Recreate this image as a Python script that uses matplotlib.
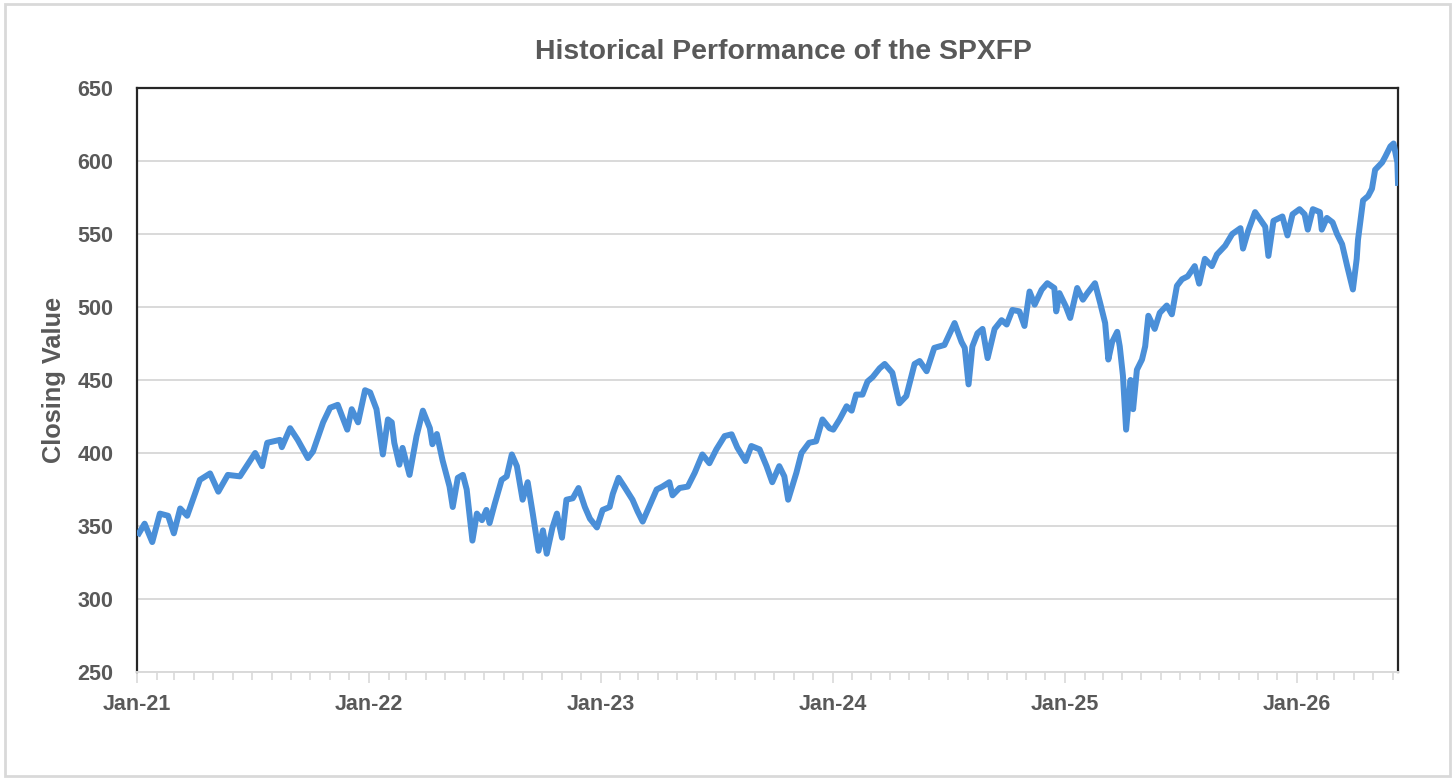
import matplotlib
matplotlib.use('Agg')
import matplotlib.pyplot as plt
import matplotlib.dates as mdates
import pandas as pd
from matplotlib.patches import Rectangle

plt.rcParams['font.family'] = ['Liberation Sans', 'DejaVu Sans']

# closing values
dates_2021 = ['2021-01-04', '2021-01-13', '2021-01-25', '2021-02-06', '2021-02-19', '2021-02-28',
              '2021-03-10', '2021-03-21', '2021-04-10', '2021-04-26', '2021-05-09', '2021-05-24',
              '2021-06-12', '2021-07-06', '2021-07-17', '2021-07-25', '2021-08-14', '2021-08-17',
              '2021-08-30', '2021-09-11', '2021-09-27', '2021-10-05', '2021-10-21', '2021-11-01',
              '2021-11-13', '2021-11-28', '2021-12-05', '2021-12-15', '2021-12-26']
values_2021 = [345, 351.6, 339, 358.5, 357, 345,
               362, 357, 381.6, 386, 373.5, 385,
               384, 400, 391, 407, 409, 404,
               417, 409, 396.5, 401, 421, 431,
               433, 416, 430, 421, 443]

dates_2022 = ['2022-01-03', '2022-01-13', '2022-01-23', '2022-01-31', '2022-02-06', '2022-02-10',
              '2022-02-18', '2022-02-23', '2022-03-06', '2022-03-17', '2022-03-27', '2022-04-07',
              '2022-04-11', '2022-04-18', '2022-04-27', '2022-05-08', '2022-05-13', '2022-05-21',
              '2022-05-29', '2022-06-04', '2022-06-13', '2022-06-20', '2022-06-28', '2022-07-05',
              '2022-07-10', '2022-07-18', '2022-07-29', '2022-08-06', '2022-08-14', '2022-08-22',
              '2022-08-31', '2022-09-08', '2022-09-16', '2022-09-25', '2022-10-02', '2022-10-08',
              '2022-10-17', '2022-10-24', '2022-11-01', '2022-11-08', '2022-11-18', '2022-11-27',
              '2022-12-07', '2022-12-15', '2022-12-26']
values_2022 = [441.5, 430, 399, 423, 421, 407,
               392, 403.5, 385, 411.5, 429, 417,
               406, 413, 395, 377, 363, 383,
               385, 375, 340, 358.5, 354, 361,
               352, 365, 381.6, 384, 399, 391,
               368, 380, 358.5, 333, 347, 331,
               349, 358.5, 342, 368, 369, 376,
               363, 355, 349]

dates_2023 = ['2023-01-04', '2023-01-15', '2023-01-20', '2023-01-29', '2023-02-07', '2023-02-20',
              '2023-02-28', '2023-03-08', '2023-03-19', '2023-03-30', '2023-04-08', '2023-04-19',
              '2023-04-24', '2023-05-05', '2023-05-18', '2023-05-29', '2023-06-10', '2023-06-21',
              '2023-07-02', '2023-07-15', '2023-07-26', '2023-08-04', '2023-08-17', '2023-08-26',
              '2023-09-08', '2023-09-19', '2023-09-28', '2023-10-09', '2023-10-17', '2023-10-23',
              '2023-11-05', '2023-11-13', '2023-11-25', '2023-12-06', '2023-12-16', '2023-12-27']
values_2023 = [361, 363, 372, 383, 377, 368,
               360, 353, 364, 375, 377, 380,
               371, 376, 377, 386.5, 399, 393,
               402.5, 411.6, 412.8, 403.7, 394.5, 404.8,
               402.5, 391, 380, 391, 384, 368,
               386.5, 400, 407, 408, 423, 417]

dates_2024 = ['2024-01-02', '2024-01-12', '2024-01-23', '2024-01-31', '2024-02-07', '2024-02-17',
              '2024-02-25', '2024-03-04', '2024-03-15', '2024-03-23', '2024-04-04', '2024-04-15',
              '2024-04-26', '2024-05-09', '2024-05-17', '2024-05-28', '2024-06-09', '2024-06-25',
              '2024-07-11', '2024-07-22', '2024-07-27', '2024-08-02', '2024-08-08', '2024-08-16',
              '2024-08-24', '2024-09-01', '2024-09-12', '2024-09-23', '2024-10-01', '2024-10-10',
              '2024-10-21', '2024-10-29', '2024-11-06', '2024-11-14', '2024-11-25', '2024-12-04',
              '2024-12-15', '2024-12-18', '2024-12-23']
values_2024 = [416, 423, 432, 429, 440, 440,
               449, 452, 458, 461, 455, 434,
               439, 461, 463, 456, 472, 474,
               489, 476, 472, 447, 473, 482,
               485, 465, 485, 491, 488, 498,
               497, 487, 510.6, 501.6, 511.8, 516.3,
               513, 497, 509.5]

dates_2025 = ['2025-01-02', '2025-01-09', '2025-01-20', '2025-01-29', '2025-02-05', '2025-02-17',
              '2025-02-25', '2025-03-05', '2025-03-10', '2025-03-16', '2025-03-24', '2025-03-28',
              '2025-04-02', '2025-04-07', '2025-04-14', '2025-04-18', '2025-04-24', '2025-05-02',
              '2025-05-07', '2025-05-12', '2025-05-22', '2025-05-30', '2025-06-10', '2025-06-18',
              '2025-06-26', '2025-07-04', '2025-07-13', '2025-07-24', '2025-07-31', '2025-08-09',
              '2025-08-20', '2025-08-28', '2025-09-10', '2025-09-21', '2025-10-04', '2025-10-08',
              '2025-10-16', '2025-10-27', '2025-11-04', '2025-11-12', '2025-11-17', '2025-11-25',
              '2025-12-09', '2025-12-17', '2025-12-25']
values_2025 = [500.5, 492.5, 513, 505, 509.5, 516.3,
               503, 489, 464, 476, 483, 473,
               453, 416, 450, 430, 457, 464,
               473, 494, 485, 496, 501, 495,
               514.5, 519, 521, 528, 516, 533,
               528, 536, 542, 550, 554, 540,
               552, 565, 560, 555, 535, 559,
               562, 549, 563.5]

dates_2026 = ['2026-01-05', '2026-01-13', '2026-01-18', '2026-01-26', '2026-02-06', '2026-02-09',
              '2026-02-17', '2026-02-26', '2026-03-05', '2026-03-13', '2026-03-21', '2026-03-25',
              '2026-03-30', '2026-04-05', '2026-04-07', '2026-04-15', '2026-04-23', '2026-04-29',
              '2026-05-04', '2026-05-15', '2026-05-20', '2026-05-28', '2026-06-02', '2026-06-08',
              '2026-06-09']
values_2026 = [567, 563.5, 553, 567, 565, 553,
               561, 558, 550, 543, 528, 521,
               512, 533, 546, 573, 576, 581,
               594, 599, 603, 610, 612, 599,
               585]

dates = pd.to_datetime(dates_2021 + dates_2022 + dates_2023 + dates_2024 + dates_2025 + dates_2026)
values = values_2021 + values_2022 + values_2023 + values_2024 + values_2025 + values_2026

text_grey = '#595959'
grid_grey = '#d9d9d9'

fig = plt.figure(figsize=(14.55, 7.8), dpi=100)
ax = fig.add_axes([137 / 1455, 1 - 672 / 780, (1398 - 137) / 1455, (672 - 88) / 780])

ax.plot(dates, values, color='#4a8fd8', linewidth=4.3, solid_joinstyle='round', zorder=3)

ax.set_ylim(250, 650)
ax.set_yticks(range(250, 651, 50))
ax.set_xlim(pd.Timestamp('2021-01-01'), pd.Timestamp('2026-06-09'))
ax.xaxis.set_major_locator(mdates.YearLocator())
ax.xaxis.set_major_formatter(mdates.DateFormatter('%b-%y'))
ax.xaxis.set_minor_locator(mdates.MonthLocator())

ax.grid(axis='y', color=grid_grey, linewidth=1.4, zorder=0)
for s in ['top', 'left', 'right']:
    ax.spines[s].set_color('#262626')
    ax.spines[s].set_linewidth(1.6)
ax.spines['bottom'].set_color(grid_grey)
ax.spines['bottom'].set_linewidth(1.4)

ax.tick_params(axis='y', length=0, pad=17, labelsize=15.5, labelcolor=text_grey)
ax.tick_params(axis='x', which='major', length=8, width=1.2, color=grid_grey, pad=8,
               labelsize=15.5, labelcolor=text_grey)
ax.tick_params(axis='x', which='minor', length=6, width=1.2, color=grid_grey)
for lbl in ax.get_xticklabels() + ax.get_yticklabels():
    lbl.set_fontweight('bold')

ax.set_ylabel('Closing Value', fontsize=18.3, fontweight='bold', color=text_grey, labelpad=8)
fig.text(783 / 1455, 1 - 52 / 780, 'Historical Performance of the SPXFP', ha='center', va='center',
         fontsize=20.4, fontweight='bold', color=text_grey)

# light frame around the whole chart
fig.patches.append(Rectangle((5 / 1455, 4 / 780), 1445 / 1455, 772 / 780, transform=fig.transFigure,
                             fill=False, edgecolor='#d9d9d9', linewidth=2))

fig.savefig('out.png', dpi=100, facecolor='white')
